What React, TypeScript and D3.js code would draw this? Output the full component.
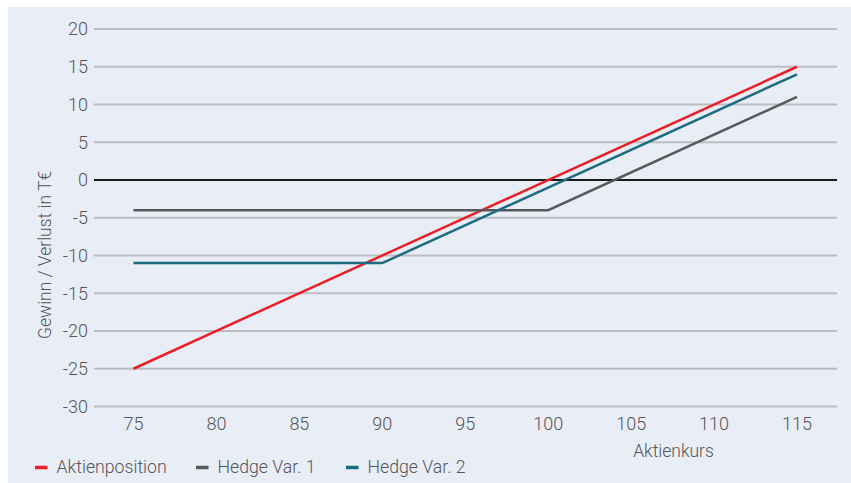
import React from "react";
import * as d3 from "d3";

const xTicks = [75, 80, 85, 90, 95, 100, 105, 110, 115];
const yTicks = [20, 15, 10, 5, 0, -5, -10, -15, -20, -25, -30];

const aktienX = [75, 115];
const aktienY = [-25, 15];
const hedge1X = [75, 100, 115];
const hedge1Y = [-4, -4, 11];
const hedge2X = [75, 90, 115];
const hedge2Y = [-11, -11, 14];

const seriesNames = ["Aktienposition", "Hedge Var. 1", "Hedge Var. 2"];
const seriesColors = ["#e8202a", "#58595b", "#1d6b7e"];

const W = 851;
const H = 483;
const FONT = "Roboto, 'DejaVu Sans', sans-serif";

export default function App() {
  const x = d3.scaleLinear().domain([72.5, 117.5]).range([92, 838.5]);
  const y = d3.scaleLinear().domain([-30, 20]).range([406.5, 29]);
  const gridX0 = 94;
  const gridX1 = 837;

  const line = d3
    .line<[number, number]>()
    .x((d) => x(d[0]))
    .y((d) => y(d[1]));

  const series = [
    { xs: aktienX, ys: aktienY },
    { xs: hedge1X, ys: hedge1Y },
    { xs: hedge2X, ys: hedge2Y },
  ];

  const legendX = [35, 196, 346];

  return (
    <svg
      width={W}
      height={H}
      style={{ position: "absolute", left: 0, top: 0, display: "block" }}
    >
      <rect x={0} y={0} width={W} height={H} fill="#ffffff" />
      <rect x={8} y={7} width={W - 8} height={H - 7} fill="#e9edf6" />
      {yTicks.map((t) => (
        <g key={t}>
          <line
            x1={gridX0}
            x2={gridX1}
            y1={y(t)}
            y2={y(t)}
            stroke={t === 0 ? "#1a1a1a" : "#bcbdc1"}
            strokeWidth={2}
          />
          <text
            x={88}
            y={y(t)}
            dy="0.35em"
            textAnchor="end"
            fontFamily={FONT}
            fontSize={18}
            fontWeight={300}
            fill="#555559"
          >
            {t}
          </text>
        </g>
      ))}
      {xTicks.map((t) => (
        <text
          key={t}
          x={x(t)}
          y={430}
          textAnchor="middle"
          fontFamily={FONT}
          fontSize={18}
          fontWeight={300}
          fill="#555559"
        >
          {t}
        </text>
      ))}
      <text
        x={673.5}
        y={457}
        textAnchor="middle"
        fontFamily={FONT}
        fontSize={17.5}
        fontWeight={300}
        fill="#555559"
      >
        Aktienkurs
      </text>
      <text
        transform={`translate(51, 255) rotate(-90)`}
        textAnchor="middle"
        fontFamily={FONT}
        fontSize={17.5}
        fontWeight={300}
        fill="#555559"
      >
        Gewinn / Verlust in T€
      </text>
      {series.map((s, i) => (
        <path
          key={i}
          d={line(s.xs.map((v, j) => [v, s.ys[j]] as [number, number])) || ""}
          fill="none"
          stroke={seriesColors[i]}
          strokeWidth={2.5}
        />
      ))}
      {seriesNames.map((n, i) => (
        <g key={n}>
          <line
            x1={legendX[i]}
            x2={legendX[i] + 12.5}
            y1={467.5}
            y2={467.5}
            stroke={seriesColors[i]}
            strokeWidth={3.5}
          />
          <text
            x={legendX[i] + 21.5}
            y={473}
            fontFamily={FONT}
            fontSize={17.7}
            fontWeight={300}
            fill="#555559"
          >
            {n}
          </text>
        </g>
      ))}
    </svg>
  );
}
